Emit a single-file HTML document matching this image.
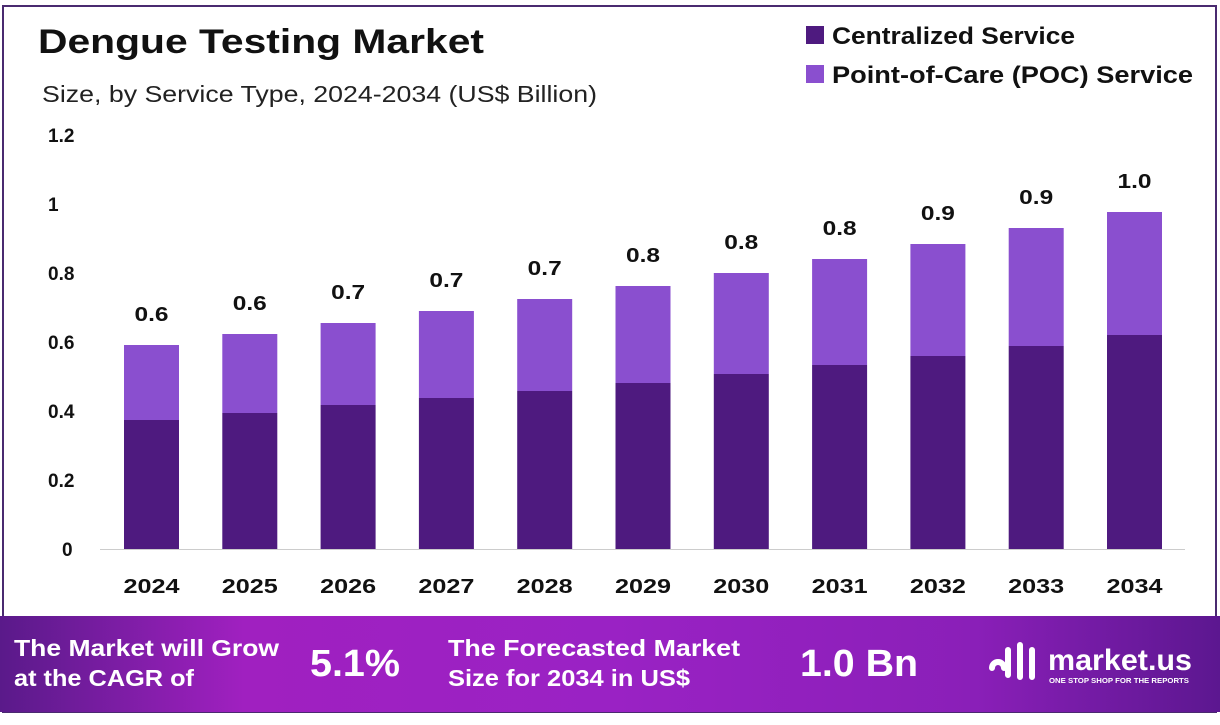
<!DOCTYPE html>
<html><head><meta charset="utf-8"><style>
html,body{margin:0;padding:0;background:#fff;}
body{width:1220px;height:720px;overflow:hidden;}
text{font-family:"Liberation Sans",sans-serif;}
</style></head><body>
<svg width="1220" height="720" viewBox="0 0 1220 720" xmlns="http://www.w3.org/2000/svg">
<defs>
<linearGradient id="bn" x1="0" x2="1" y1="0" y2="0">
<stop offset="0" stop-color="#5a1a8a"/><stop offset="0.2" stop-color="#a020c0"/>
<stop offset="0.5" stop-color="#9a22c4"/><stop offset="0.8" stop-color="#8a1fb8"/><stop offset="1" stop-color="#5c1790"/>
</linearGradient>
</defs>
<rect x="3" y="6" width="1213" height="706" fill="#fff" stroke="#4a2a70" stroke-width="2"/>
<text x="38" y="53" font-size="34" font-weight="bold" fill="#111" textLength="446" lengthAdjust="spacingAndGlyphs">Dengue Testing Market</text>
<text x="42" y="102" font-size="23" fill="#222" textLength="555" lengthAdjust="spacingAndGlyphs">Size, by Service Type, 2024-2034 (US$ Billion)</text>
<rect x="806" y="26" width="18" height="18" fill="#4e1a7f"/>
<text x="832" y="44" font-size="24" font-weight="bold" fill="#111" textLength="243" lengthAdjust="spacingAndGlyphs">Centralized Service</text>
<rect x="806" y="65" width="18" height="18" fill="#8a4fcf"/>
<text x="832" y="83" font-size="24" font-weight="bold" fill="#111" textLength="361" lengthAdjust="spacingAndGlyphs">Point-of-Care (POC) Service</text>
<g font-size="19" font-weight="bold" fill="#111">
<text x="48" y="142">1.2</text><text x="48" y="211">1</text><text x="48" y="280">0.8</text>
<text x="48" y="349">0.6</text><text x="48" y="418">0.4</text><text x="48" y="487">0.2</text><text x="62" y="556">0</text>
</g>
<line x1="100" y1="549.5" x2="1185" y2="549.5" stroke="#ccc" stroke-width="1"/>
<g id="bars"></g>
<rect x="0" y="616" width="1220" height="96" fill="url(#bn)"/>
<g fill="#fff" font-weight="bold">
<text x="14" y="656" font-size="23" textLength="265" lengthAdjust="spacingAndGlyphs">The Market will Grow</text>
<text x="14" y="686" font-size="23" textLength="180" lengthAdjust="spacingAndGlyphs">at the CAGR of</text>
<text x="310" y="676" font-size="38" textLength="90" lengthAdjust="spacingAndGlyphs">5.1%</text>
<text x="448" y="656" font-size="23" textLength="292" lengthAdjust="spacingAndGlyphs">The Forecasted Market</text>
<text x="448" y="686" font-size="23" textLength="242" lengthAdjust="spacingAndGlyphs">Size for 2034 in US$</text>
<text x="800" y="676" font-size="38" textLength="118" lengthAdjust="spacingAndGlyphs">1.0 Bn</text>
<text x="1048" y="670" font-size="30" textLength="144" lengthAdjust="spacingAndGlyphs">market.us</text>
<text x="1049" y="683" font-size="7" textLength="140" lengthAdjust="spacingAndGlyphs">ONE STOP SHOP FOR THE REPORTS</text>
<path d="M992 668 a6 6 0 1 1 12 0 M1008 650 v25 M1020 645 v32 M1032 650 v27" stroke="#fff" stroke-width="6" fill="none" stroke-linecap="round"/>
</g>
</svg>
<script>
var tot=[345,334,323,311,299,286,273,259,244,228,212];
var cen=[420,413,405,398,391,383,374,365,356,346,335];
var lab=["0.6","0.6","0.7","0.7","0.7","0.8","0.8","0.8","0.9","0.9","1.0"];
var g=document.getElementById("bars"),s="";
for(var i=0;i<11;i++){var x=124+i*98.3,c=x+27.5;
s+='<rect x="'+x+'" y="'+tot[i]+'" width="55" height="'+(cen[i]-tot[i])+'" fill="#8a4fcf"/>';
s+='<rect x="'+x+'" y="'+cen[i]+'" width="55" height="'+(549-cen[i])+'" fill="#4e1a7f"/>';
s+='<text x="'+c+'" y="'+(tot[i]-24)+'" text-anchor="middle" font-size="20" font-weight="bold" fill="#111" textLength="34" lengthAdjust="spacingAndGlyphs">'+lab[i]+'</text>';
s+='<text x="'+c+'" y="593" text-anchor="middle" font-size="20" font-weight="bold" fill="#111" textLength="56" lengthAdjust="spacingAndGlyphs">'+(2024+i)+'</text>';}
g.innerHTML=s;
</script>
</body></html>
